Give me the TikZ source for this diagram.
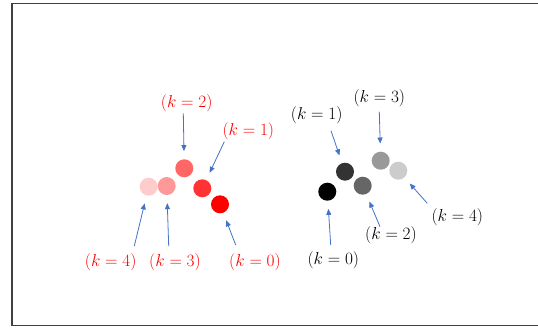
\documentclass[tikz,border=0pt]{standalone}
\usepackage{xcolor}
\usetikzlibrary{arrows.meta}

\definecolor{arrowblue}{HTML}{4472C4}
\definecolor{framegray}{HTML}{404040}

\begin{document}
\begin{tikzpicture}[
      x=1pt, y=-1pt,
      dot/.style={
        circle,
        inner sep=0pt,
        minimum size=18pt
      },
      klabel/.style={
        font=\fontsize{19}{22}\selectfont,
        inner sep=0pt
      },
      arrow/.style={-{Triangle[length=6pt, width=5pt]}, arrowblue, line width=0.8pt, shorten >=8pt}
    ]
    \useasboundingbox (0,0) rectangle (538,327);
    % Frame
    \draw [framegray, line width=1.3pt] (12,3.5) rectangle (538.3,325.5);

    % Red circles
    \node [dot, fill=red] (r0) at (220,204.3) {};
    \node [dot, fill=red!80!white] (r1) at (202.3,188.3) {};
    \node [dot, fill=red!60!white] (r2) at (184.3,168.3) {};
    \node [dot, fill=red!40!white] (r3) at (166.7,186) {};
    \node [dot, fill=red!20!white] (r4) at (148.7,186.7) {};

    % Red labels
    \node [klabel, text=red] (lr2) at (186.7,103.3) {$(k=2)$};
    \node [klabel, text=red] (lr1) at (248.3,130.7) {$(k=1)$};
    \node [klabel, text=red] (lr4) at (110.7,261.7) {$(k=4)$};
    \node [klabel, text=red] (lr3) at (175,261.7) {$(k=3)$};
    \node [klabel, text=red] (lr0) at (255,261.7) {$(k=0)$};

    % Gray circles
    \node [dot, fill=black] (g0) at (327.3,191.7) {};
    \node [dot, fill=black!80] (g1) at (345,171.7) {};
    \node [dot, fill=black!60] (g2) at (362.7,185.7) {};
    \node [dot, fill=black!40] (g3) at (380.7,160.7) {};
    \node [dot, fill=black!20] (g4) at (398.3,170.7) {};

    % Black labels
    \node [klabel] (lg1) at (316.7,115) {$(k=1)$};
    \node [klabel] (lg3) at (379.3,98.3) {$(k=3)$};
    \node [klabel] (lg4) at (457.3,217.3) {$(k=4)$};
    \node [klabel] (lg2) at (391,235) {$(k=2)$};
    \node [klabel] (lg0) at (333.3,260) {$(k=0)$};

    % Arrow tails
    \coordinate (tr2) at (183.3,113.3);
    \coordinate (tr1) at (224.3,141.7);
    \coordinate (tr4) at (134.3,246);
    \coordinate (tr3) at (168.7,246);
    \coordinate (tr0) at (235.7,245);
    \coordinate (tg1) at (331,130.7);
    \coordinate (tg3) at (379.3,111.7);
    \coordinate (tg4) at (427.3,203.3);
    \coordinate (tg2) at (380,226.7);
    \coordinate (tg0) at (330.7,245);

    % Arrows
    \draw [arrow] (tr2) -- (r2);
    \draw [arrow] (tr1) -- (r1);
    \draw [arrow] (tr4) -- (r4);
    \draw [arrow] (tr3) -- (r3);
    \draw [arrow] (tr0) -- (r0);
    \draw [arrow] (tg1) -- (g1);
    \draw [arrow] (tg3) -- (g3);
    \draw [arrow] (tg4) -- (g4);
    \draw [arrow] (tg2) -- (g2);
    \draw [arrow] (tg0) -- (g0);
  \end{tikzpicture}
\end{document}
